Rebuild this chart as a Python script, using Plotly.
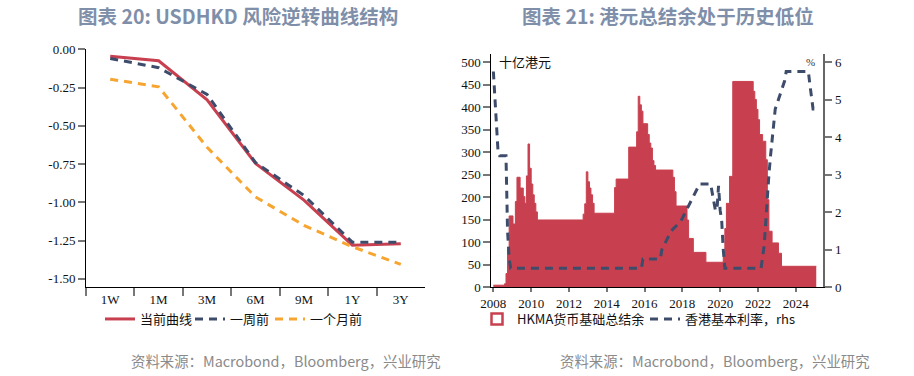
import plotly.graph_objects as go

W, H = 914, 376
RED = "#C8404F"
NAVY = "#3E4C6B"
ORANGE = "#F7A531"
TITLE_C = "#7F8FA9"

# ---------------- Left chart data ----------------
tenors = ["1W", "1M", "3M", "6M", "9M", "1Y", "3Y"]
curve_now = [-0.045, -0.075, -0.33, -0.745, -0.985, -1.28, -1.27]
curve_1w = [-0.06, -0.12, -0.295, -0.74, -0.955, -1.26, -1.26]
curve_1m = [-0.195, -0.245, -0.64, -0.965, -1.15, -1.29, -1.405]
left_ytick_vals = [0.0, -0.25, -0.5, -0.75, -1.0, -1.25, -1.5]
left_ytick_text = ["0.00", "-0.25", "-0.50", "-0.75", "-1.00", "-1.25", "-1.50"]

# ---------------- Right chart data ----------------
agg_dates = ["2008-01-01", "2008-08-01", "2008-09-01", "2008-10-01", "2008-11-01",
             "2009-01-15", "2009-03-01", "2009-04-01", "2009-06-01", "2009-08-01",
             "2009-09-01", "2009-10-01", "2009-11-01", "2009-12-01", "2010-01-01",
             "2010-02-01", "2010-03-01", "2010-04-01", "2010-05-01", "2012-10-01",
             "2012-11-01", "2012-12-01", "2013-01-01", "2013-02-01", "2013-03-01",
             "2013-04-01", "2013-05-01", "2014-06-01", "2014-07-01", "2015-03-01",
             "2015-08-01", "2015-09-01", "2015-10-01", "2015-11-01", "2015-12-01",
             "2016-03-01", "2016-04-01", "2016-05-01", "2016-06-01", "2016-07-01",
             "2016-08-01", "2017-07-01", "2017-08-01", "2017-09-01", "2018-04-01",
             "2018-05-01", "2018-08-01", "2019-04-01", "2020-03-01", "2020-04-01",
             "2020-05-01", "2020-07-01", "2020-09-01", "2021-10-01", "2021-11-01",
             "2021-12-01", "2022-01-01", "2022-02-01", "2022-04-01", "2022-06-01",
             "2022-07-01", "2022-08-01", "2022-10-01", "2023-02-01", "2023-04-01",
             "2025-02-01"]
agg_vals = [4, 7, 30, 83, 158,
            140, 190, 244, 220, 201,
            186, 247, 318, 264, 229,
            205, 186, 167, 149, 162,
            185, 256, 234, 220, 205,
            186, 164, 221, 240, 311,
            345, 424, 405, 391, 363,
            339, 320, 309, 281, 270,
            260, 244, 212, 180, 149,
            108, 77, 55, 67, 130,
            186, 246, 457, 435, 417,
            395, 372, 339, 324, 283,
            194, 124, 98, 75, 46,
            46]

rate_dates = ["2008-01-01", "2008-02-01", "2008-03-01", "2008-04-01", "2008-05-01",
              "2008-09-01", "2008-10-01", "2008-11-01", "2008-12-01", "2015-11-01",
              "2015-12-01", "2016-11-01", "2016-12-01", "2017-03-01", "2017-06-01",
              "2017-12-01", "2018-03-01", "2018-06-01", "2018-09-01", "2018-12-01",
              "2019-07-01", "2019-08-01", "2019-09-01", "2019-10-01", "2019-11-01",
              "2019-12-01", "2020-01-01", "2020-02-01", "2020-03-01", "2020-04-01",
              "2022-03-01", "2022-04-01", "2022-05-01", "2022-06-01", "2022-07-01",
              "2022-08-01", "2022-09-01", "2022-10-01", "2022-11-01", "2022-12-01",
              "2023-02-01", "2023-04-01", "2023-06-01", "2023-07-01", "2024-09-01",
              "2024-10-01", "2024-11-01", "2024-12-01", "2025-01-15"]
rate_vals = [5.75, 5.0, 4.5, 3.6, 3.5,
             3.5, 1.5, 0.75, 0.5, 0.5,
             0.75, 0.75, 1.0, 1.25, 1.5,
             1.75, 2.0, 2.25, 2.5, 2.75,
             2.75, 2.5, 2.25, 2.05, 2.05,
             2.7, 2.05, 1.75, 1.0, 0.5,
             0.5, 0.75, 1.1, 1.75, 2.5,
             3.0, 3.5, 3.9, 4.3, 4.75,
             5.0, 5.25, 5.5, 5.75, 5.75,
             5.4, 5.1, 4.75, 4.75]
year_ticks = [str(y) for y in range(2008, 2025, 2)]
lhs_ticks = list(range(0, 501, 50))
rhs_ticks = list(range(0, 7))

fig = go.Figure()

# Left chart traces
fig.add_trace(go.Scatter(x=tenors, y=curve_now, mode="lines", name="当前曲线", legendwidth=45,
                         line=dict(color=RED, width=3), xaxis="x", yaxis="y", legend="legend"))
fig.add_trace(go.Scatter(x=tenors, y=curve_1w, mode="lines", name="一周前", legendwidth=35,
                         line=dict(color=NAVY, width=3, dash="8px,6px"), xaxis="x", yaxis="y", legend="legend"))
fig.add_trace(go.Scatter(x=tenors, y=curve_1m, mode="lines", name="一个月前", legendwidth=55,
                         line=dict(color=ORANGE, width=3, dash="8px,6px"), xaxis="x", yaxis="y", legend="legend"))

# Right chart traces
fig.add_trace(go.Scatter(x=agg_dates, y=agg_vals, mode="lines", showlegend=False,
                         line=dict(shape="hv", color=RED, width=1), fill="tozeroy", fillcolor=RED,
                         xaxis="x2", yaxis="y2"))
fig.add_trace(go.Scatter(x=[None], y=[None], mode="markers", name="HKMA货币基础总结余", legendwidth=123,
                         marker=dict(symbol="square-open", size=11, color=RED, line=dict(width=2.5, color=RED)),
                         xaxis="x2", yaxis="y2", legend="legend2"))
fig.add_trace(go.Scatter(x=rate_dates, y=rate_vals, mode="lines", name="香港基本利率，rhs", legendwidth=120,
                         line=dict(color=NAVY, width=3, dash="8px,6px"),
                         xaxis="x2", yaxis="y3", legend="legend2"))

serif = dict(family="Liberation Serif, Times New Roman, serif", size=13, color="#111")
ydom = [1 - 287 / H, 1 - 49.3 / H]
ydom2 = [1 - 287 / H, 1 - 54 / H]
common = dict(showgrid=False, zeroline=False, automargin=False, tickfont=serif, showline=True)

fig.update_layout(
    width=W, height=H, margin=dict(l=0, r=0, t=0, b=0, autoexpand=False),
    paper_bgcolor="white", plot_bgcolor="white",
    font=dict(family="Noto Sans CJK SC", size=13, color="#111"),
    xaxis=dict(domain=[86 / W, 425 / W], type="category", range=[-0.5, 6.5], tickson="boundaries",
               ticks="outside", ticklen=8, tickwidth=1.5, tickcolor="#777",
               linecolor="#000", linewidth=1, anchor="y", **common),
    yaxis=dict(domain=ydom, range=[-1.553, 0], tickvals=left_ytick_vals, ticktext=left_ytick_text,
               ticks="outside", ticklen=7, tickwidth=2, tickcolor="#777",
               linecolor="#000", linewidth=1, anchor="x", **common),
    xaxis2=dict(domain=[491.3 / W, 823.3 / W], type="date", range=["2007-11-22", "2025-06-17"],
                tickvals=[y + "-01-01" for y in year_ticks], ticktext=year_ticks,
                ticks="outside", ticklen=4, tickwidth=1.5, tickcolor="#777",
                linecolor="#000", linewidth=1, anchor="y2", **common),
    yaxis2=dict(domain=ydom2, range=[0, 518], tickvals=lhs_ticks,
                ticks="outside", ticklen=7, tickwidth=2, tickcolor="#777",
                linecolor="#000", linewidth=1, anchor="x2", **common),
    yaxis3=dict(domain=ydom2, range=[0, 6.216], tickvals=rhs_ticks, overlaying="y2", side="right",
                ticks="outside", ticklen=7, tickwidth=2, tickcolor="#777",
                linecolor="#666", linewidth=2, anchor="x2", **common),
    legend=dict(orientation="h", x=100 / W, y=1 - 319 / H, xanchor="left", yanchor="middle",
                font=dict(family="Noto Sans CJK SC", size=13, color="#111"), bgcolor="rgba(0,0,0,0)",
                itemwidth=30, tracegroupgap=0),
    legend2=dict(orientation="h", x=477 / W, y=1 - 319 / H, xanchor="left", yanchor="middle",
                 font=dict(family="Noto Sans CJK SC", size=13, color="#111"),
                 bgcolor="rgba(0,0,0,0)", itemwidth=30, tracegroupgap=0),
    showlegend=True,
)

title_font = dict(family="Noto Sans CJK SC", size=19.5, color=TITLE_C)
src_font = dict(family="Noto Sans CJK SC", size=14.4, color="#8A8A8A")
fig.add_annotation(x=238 / W, y=1 - 16 / H, xref="paper", yref="paper", showarrow=False,
                   text="<b>图表 20: USDHKD 风险逆转曲线结构</b>", font=title_font,
                   xanchor="center", yanchor="middle")
fig.add_annotation(x=668 / W, y=1 - 16 / H, xref="paper", yref="paper", showarrow=False,
                   text="<b>图表 21: 港元总结余处于历史低位</b>", font=title_font,
                   xanchor="center", yanchor="middle")
fig.add_annotation(x=443 / W, y=1 - 360 / H, xref="paper", yref="paper", showarrow=False,
                   text="资料来源：Macrobond，Bloomberg，兴业研究", font=src_font,
                   xanchor="right", yanchor="middle")
fig.add_annotation(x=872 / W, y=1 - 360 / H, xref="paper", yref="paper", showarrow=False,
                   text="资料来源：Macrobond，Bloomberg，兴业研究", font=src_font,
                   xanchor="right", yanchor="middle")
fig.add_annotation(x=497 / W, y=1 - 62 / H, xref="paper", yref="paper", showarrow=False,
                   text="十亿港元", font=dict(family="Noto Sans CJK SC", size=13, color="#111"),
                   xanchor="left", yanchor="middle")
fig.add_annotation(x=817 / W, y=1 - 62 / H, xref="paper", yref="paper", showarrow=False,
                   text="%", font=dict(family="Liberation Serif", size=11, color="#333"),
                   xanchor="right", yanchor="middle")

fig.write_html("out.html", config={"displayModeBar": False},
               post_script="document.body.style.margin='0';document.body.style.overflow='hidden';")
